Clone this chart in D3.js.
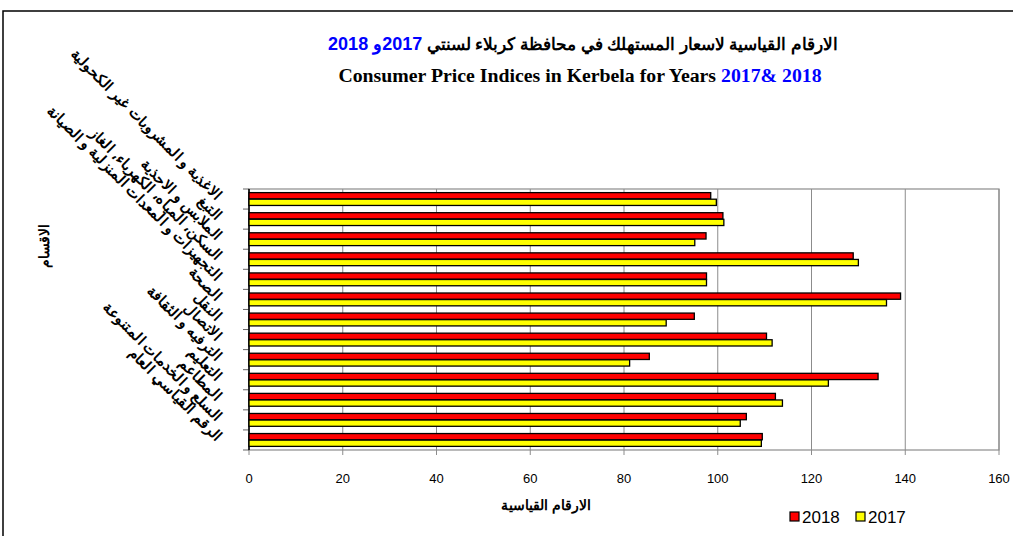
<!DOCTYPE html>
<html>
<head>
<meta charset="utf-8">
<script src="https://cdn.jsdelivr.net/npm/d3@7"></script>
<style>
  body { margin: 0; background: #fff; }
  svg { display: block; font-family: Arial, "Liberation Sans", sans-serif; }
</style>
</head>
<body>
<svg id="chart"></svg>
<script>
// categories top to bottom
var categories = [
    "الاغذية و المشروبات  غير  الكحولية",
    "التبغ",
    "الملابس و الاحذية",
    "السكن، المياه، الكهرباء، الغاز",
    "التجهيزات و المعدات المنزلية و الصيانة",
    "الصحة",
    "النقل",
    "الاتصال",
    "الترفيه و الثقافة",
    "التعليم",
    "المطاعم",
    "السلع و الخدمات المتنوعة",
    "الرقم القياسي العام"
];
var values2018 = [98.5, 101.1, 97.5, 128.9, 97.6, 139.0, 95.0, 110.4, 85.4, 134.2, 112.3, 106.1, 109.5];
var values2017 = [99.7, 101.3, 95.1, 130.0, 97.6, 136.0, 89.0, 111.6, 81.2, 123.6, 113.8, 104.8, 109.3];
var seriesNames = ["2018", "2017"];
var seriesColors = ["#ff0000", "#ffff00"];
var xTicks = [0, 20, 40, 60, 80, 100, 120, 140, 160];

var width = 1013, height = 536;
var plot = {left: 249, right: 999, top: 189, bottom: 450};

var svg = d3.select("#chart").attr("width", width).attr("height", height);

// outer frame
svg.append("rect")
    .attr("x", 3).attr("y", 11)
    .attr("width", width + 10).attr("height", height)
    .attr("fill", "none").attr("stroke", "#000").attr("stroke-width", 1.5);

var x = d3.scaleLinear().domain([0, 160]).range([plot.left, plot.right]);
var y = d3.scaleBand().domain(categories).range([plot.top, plot.bottom]);
var y1 = d3.scaleBand().domain(seriesNames).range([0, y.bandwidth()]).paddingInner(0.05).paddingOuter(0.55);

// gridlines
svg.append("g").selectAll("line")
    .data(xTicks).enter()
    .append("line")
    .attr("x1", function(d) { return x(d); })
    .attr("x2", function(d) { return x(d); })
    .attr("y1", plot.top).attr("y2", plot.bottom + 5)
    .attr("stroke", "#8c8c8c").attr("stroke-width", 1);

svg.append("rect")
    .attr("x", plot.left).attr("y", plot.top)
    .attr("width", plot.right - plot.left).attr("height", plot.bottom - plot.top)
    .attr("fill", "none").attr("stroke", "#8c8c8c").attr("stroke-width", 1.2);

// x tick labels
svg.append("g").selectAll("text")
    .data(xTicks).enter()
    .append("text")
    .attr("x", function(d) { return x(d); })
    .attr("y", 483)
    .attr("text-anchor", "middle")
    .attr("font-size", 13)
    .text(function(d) { return d; });

// category axis ticks at band edges
var edges = categories.map(function(c) { return y(c); }).concat([plot.bottom]);
svg.append("g").selectAll("line")
    .data(edges).enter()
    .append("line")
    .attr("x1", plot.left - 6).attr("x2", plot.left)
    .attr("y1", function(d) { return d; })
    .attr("y2", function(d) { return d; })
    .attr("stroke", "#666");
svg.append("line")
    .attr("x1", plot.left).attr("x2", plot.left)
    .attr("y1", plot.top).attr("y2", plot.bottom)
    .attr("stroke", "#000").attr("stroke-width", 1.5);

// bars
var rows = categories.map(function(c, i) {
    return {cat: c, vals: [values2018[i], values2017[i]]};
});
var groups = svg.append("g").selectAll("g")
    .data(rows).enter()
    .append("g")
    .attr("transform", function(d) { return "translate(0," + y(d.cat) + ")"; });
groups.selectAll("rect")
    .data(function(d) { return d.vals.map(function(v, j) { return {name: seriesNames[j], v: v, color: seriesColors[j]}; }); })
    .enter()
    .append("rect")
    .attr("x", x(0))
    .attr("y", function(d) { return y1(d.name); })
    .attr("width", function(d) { return x(d.v) - x(0); })
    .attr("height", y1.bandwidth())
    .attr("fill", function(d) { return d.color; })
    .attr("stroke", "#000").attr("stroke-width", 1.3);

// category labels, rotated
svg.append("g").selectAll("text")
    .data(categories).enter()
    .append("text")
    .attr("transform", function(d) {
        return "translate(" + (plot.left - 33) + "," + (y(d) + y.bandwidth() / 2 + 2) + ") rotate(45)";
    })
    .attr("text-anchor", "end")
    .attr("font-size", 14.5)
    .attr("font-weight", "bold")
    .text(function(d) { return d; });

// axis titles
svg.append("text")
    .attr("transform", "translate(49,246) rotate(-90)")
    .attr("text-anchor", "middle")
    .attr("font-size", 14).attr("font-weight", "bold")
    .text("الاقسام");
svg.append("text")
    .attr("x", 546).attr("y", 510)
    .attr("text-anchor", "middle")
    .attr("font-size", 14).attr("font-weight", "bold")
    .text("الارقام القياسية");

// titles
var t1 = svg.append("text")
    .attr("x", 583).attr("y", 50)
    .attr("text-anchor", "middle")
    .attr("direction", "rtl")
    .attr("font-size", 16.5).attr("font-weight", "bold");
t1.append("tspan").text("الارقام القياسية لاسعار المستهلك في محافظة كربلاء لسنتي  ");
t1.append("tspan").attr("fill", "#0000ff").attr("font-size", 18).text("2017و 2018");

var t2 = svg.append("text")
    .attr("x", 580).attr("y", 82)
    .attr("text-anchor", "middle")
    .attr("font-family", "'Liberation Serif', 'Times New Roman', serif")
    .attr("font-size", 19.8).attr("font-weight", "bold");
t2.append("tspan").text("Consumer Price Indices in Kerbela for Years ");
t2.append("tspan").attr("fill", "#0000ff").text("2017& 2018");

// legend
var legend = svg.append("g").selectAll("g")
    .data(seriesNames).enter()
    .append("g")
    .attr("transform", function(d, i) { return "translate(" + (790 + i * 66) + ",512)"; });
legend.append("rect")
    .attr("width", 9).attr("height", 9)
    .attr("fill", function(d, i) { return seriesColors[i]; })
    .attr("stroke", "#000").attr("stroke-width", 1.2);
legend.append("text")
    .attr("x", 12).attr("y", 11)
    .attr("font-size", 17)
    .text(function(d) { return d; });
</script>
</body>
</html>
